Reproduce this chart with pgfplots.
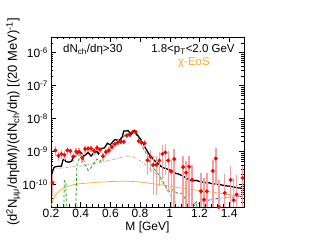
\documentclass[border=0pt]{standalone}
\usepackage{fontspec}
\setmainfont{Liberation Sans}
\usepackage{pgfplots}
\pgfplotsset{compat=1.18}
\definecolor{dred}{RGB}{255,0,0}
\definecolor{errc}{RGB}{245,160,160}
\definecolor{grn}{RGB}{40,160,40}
\definecolor{pnk}{RGB}{200,165,165}
\definecolor{orng}{RGB}{255,170,40}
\definecolor{blu}{RGB}{60,60,255}

\pgfplotstableread{
x y ep em
0.21 1.15e-10 1.0e-10 7e-11
0.23 1.1e-9 3.5e-10 3.5e-10
0.25 7.5e-10 2.3e-10 2.3e-10
0.27 8.5e-10 2.5e-10 2.5e-10
0.29 8.0e-10 2.4e-10 2.4e-10
0.31 1.1e-9 2.8e-10 2.8e-10
0.33 1.05e-9 2.6e-10 2.6e-10
0.35 7.0e-10 2.1e-10 2.1e-10
0.37 1.0e-9 2.5e-10 2.5e-10
0.39 1.0e-9 2.5e-10 2.5e-10
0.41 6.5e-10 2.0e-10 2.0e-10
0.43 1.2e-9 2.8e-10 2.8e-10
0.45 1.25e-9 2.8e-10 2.8e-10
0.47 1.25e-9 2.8e-10 2.8e-10
0.49 1.05e-9 2.5e-10 2.5e-10
0.51 1.3e-9 2.8e-10 2.8e-10
0.53 1.15e-9 2.6e-10 2.6e-10
0.55 7.3e-10 2.0e-10 2.0e-10
0.57 9.8e-10 2.3e-10 2.3e-10
0.59 1.1e-9 2.4e-10 2.4e-10
0.61 1.4e-9 2.8e-10 2.8e-10
0.63 1.7e-9 3.0e-10 3.0e-10
0.65 1.9e-9 3.2e-10 3.2e-10
0.67 2.0e-9 3.3e-10 3.3e-10
0.69 2.0e-9 3.3e-10 3.3e-10
0.71 3.1e-9 4.5e-10 4.5e-10
0.73 3.2e-9 4.5e-10 4.5e-10
0.75 3.9e-9 5e-10 5e-10
0.77 4.0e-9 5e-10 5e-10
0.79 2.1e-9 4e-10 4e-10
0.81 1.9e-9 4e-10 4e-10
0.83 1.8e-9 4e-10 4e-10
0.85 5.5e-10 3.5e-10 3.5e-10
0.87 7.0e-10 4.5e-10 4.5e-10
0.89 4.0e-10 3.5e-10 3.5e-10
0.91 4.0e-10 3.5e-10 3.5e-10
0.93 5.4e-10 4.5e-10 4.5e-10
0.95 8.5e-10 7e-10 7e-10
0.97 9.5e-10 7.5e-10 7.5e-10
0.99 5.4e-10 4.8e-10 4.8e-10
1.01 2.5e-10 3e-10 2.45e-10
1.03 6.0e-10 6e-10 5.9e-10
1.09 3.4e-10 4e-10 3.35e-10
1.11 2.3e-10 3e-10 2.25e-10
1.13 3.5e-10 4e-10 3.45e-10
1.15 1.4e-10 2.5e-10 1.38e-10
1.21 6.3e-11 1.6e-10 6.2e-11
1.23 3.5e-11 1.2e-10 3.45e-11
1.25 6.3e-11 1.6e-10 6.2e-11
1.29 2.6e-10 3e-10 2.55e-10
1.31 6.2e-10 7e-10 5.2e-10
1.33 2.1e-11 1.2e-10 2.05e-11
1.37 5.6e-11 1.5e-10 5.5e-11
1.41 1.4e-10 2.2e-10 1.38e-10
1.43 3.4e-11 1.2e-10 3.3e-11
1.45 5e-11 1.4e-10 4.9e-11
1.49 1.6e-10 2.2e-10 1.58e-10
}\datatab

\pgfplotstableread{
x y
0.205 1.2e-10
0.21 2.5e-10
0.22 3.3e-10
0.23 3.5e-10
0.25 3.6e-10
0.27 3.6e-10
0.28 5.5e-10
0.29 6.0e-10
0.30 5.0e-10
0.32 4.8e-10
0.34 5.2e-10
0.35 7.3e-10
0.37 7.5e-10
0.38 9.8e-10
0.40 9.5e-10
0.42 7.3e-10
0.44 8.5e-10
0.45 9.5e-10
0.47 7.3e-10
0.49 9.5e-10
0.51 1.0e-9
0.52 8.5e-10
0.54 1.25e-9
0.56 1.3e-9
0.58 1.8e-9
0.60 1.6e-9
0.62 2.1e-9
0.63 2.3e-9
0.66 2.2e-9
0.68 2.8e-9
0.69 4.2e-9
0.72 4.3e-9
0.74 3.4e-9
0.76 4.4e-9
0.78 3.3e-9
0.80 2.5e-9
0.82 1.8e-9
0.84 1.2e-9
0.86 8.5e-10
0.88 6.5e-10
0.90 5.2e-10
0.92 4.5e-10
0.94 3.6e-10
0.96 3.2e-10
0.98 3.0e-10
1.00 2.8e-10
1.02 2.5e-10
1.04 2.2e-10
1.06 2.1e-10
1.08 1.9e-10
1.10 1.7e-10
1.12 1.5e-10
1.14 1.35e-10
1.16 1.3e-10
1.18 1.35e-10
1.20 1.25e-10
1.22 1.2e-10
1.24 1.15e-10
1.26 1.15e-10
1.28 1.08e-10
1.30 1.05e-10
1.32 1.02e-10
1.34 1.0e-10
1.36 9.5e-11
1.38 9.2e-11
1.40 9.0e-11
1.42 8.7e-11
1.44 8.3e-11
1.46 8.0e-11
1.48 7.8e-11
1.50 7.5e-11
}\blacktab

\pgfplotstableread{
x y
0.285 1e-11
0.29 1.3e-10
0.30 1.2e-10
0.305 1e-11
0.365 1e-11
0.375 4.5e-10
0.39 6e-10
0.40 9e-10
0.41 8e-10
0.43 4e-10
0.45 2.7e-10
0.47 3.3e-10
0.49 4.5e-10
0.51 6e-10
0.53 5e-10
0.55 7e-10
0.57 8.5e-10
0.59 1.1e-9
0.61 1.5e-9
0.62 2.1e-9
0.64 2.4e-9
0.66 1.9e-9
0.68 2.6e-9
0.70 3.2e-9
0.72 3.5e-9
0.74 3.9e-9
0.76 4.0e-9
0.78 2.9e-9
0.80 1.9e-9
0.82 1.3e-9
0.84 9e-10
0.86 5.5e-10
0.88 3.8e-10
0.90 2.8e-10
0.93 1.9e-10
0.96 1.1e-10
0.98 8e-11
1.00 6e-11
1.02 7e-11
1.05 5.5e-11
1.08 5.5e-11
1.10 4e-11
1.12 2.5e-11
1.13 1e-11
1.15 1e-11
1.16 2.5e-11
1.18 3e-11
1.19 1e-11
}\greentab

\pgfplotstableread{
x y
0.21 2.8e-10
0.22 3.0e-10
0.30 3.3e-10
0.40 3.7e-10
0.50 4.4e-10
0.60 5.5e-10
0.65 6.3e-10
0.70 7.2e-10
0.73 7.4e-10
0.76 6.8e-10
0.80 5.3e-10
0.85 3.6e-10
0.90 2.3e-10
0.95 1.2e-10
1.00 5e-11
1.05 2.5e-11
1.08 1.5e-11
}\pinktab

\pgfplotstableread{
x y
0.20 2.3e-11
0.21 3e-11
0.22 4e-11
0.24 5.5e-11
0.27 7.2e-11
0.30 8.6e-11
0.35 1.0e-10
0.40 1.07e-10
0.50 1.17e-10
0.60 1.24e-10
0.70 1.27e-10
0.75 1.25e-10
0.80 1.2e-10
0.85 1.12e-10
0.90 1.05e-10
0.95 9.8e-11
1.00 9e-11
1.10 7.6e-11
1.20 6.6e-11
1.30 5.8e-11
1.40 5e-11
1.50 4.2e-11
}\orangetab

\pgfplotstableread{
x y
1.11 1.5e-11
1.15 2.2e-11
1.20 2.8e-11
1.25 3.3e-11
1.30 3.7e-11
1.35 3.9e-11
1.40 4.1e-11
1.45 4.3e-11
1.50 4.5e-11
}\bluetab

\begin{document}
\begin{tikzpicture}
\useasboundingbox (-51pt,-38pt) rectangle (266pt,207pt);
\begin{axis}[
  at={(0,0)}, anchor=south west,
  scale only axis, width=193pt, height=170pt,
  xmin=0.2, xmax=1.5, ymode=log, ymin=2.1e-11, ymax=3e-6,
  xtick={0.2,0.4,0.6,0.8,1.0,1.2,1.4},
  xticklabels={0.2,0.4,0.6,0.8,1,1.2,1.4},
  minor x tick num=4,
  ytick={1e-10,1e-9,1e-8,1e-7,1e-6},
  yticklabels={10\textsuperscript{-10},10\textsuperscript{-9},10\textsuperscript{-8},10\textsuperscript{-7},10\textsuperscript{-6}},
  minor ytick={3e-11,4e-11,5e-11,6e-11,7e-11,8e-11,9e-11,
    2e-10,3e-10,4e-10,5e-10,6e-10,7e-10,8e-10,9e-10,
    2e-9,3e-9,4e-9,5e-9,6e-9,7e-9,8e-9,9e-9,
    2e-8,3e-8,4e-8,5e-8,6e-8,7e-8,8e-8,9e-8,
    2e-7,3e-7,4e-7,5e-7,6e-7,7e-7,8e-7,9e-7,
    2e-6,3e-6},
  tick align=inside, xtick pos=both, ytick pos=both,
  major tick length=5pt, minor tick length=2.5pt,
  tick style={black, line width=0.5pt},
  axis line style={line width=0.7pt},
  ticklabel style={font=\fontsize{12}{14}\selectfont},
  xticklabel style={inner sep=1pt, yshift=-1pt},
  yticklabel style={inner sep=1pt, xshift=-2pt},
  xlabel={M [GeV]},
  ylabel={(d\textsuperscript{2}N\textsubscript{μμ}/dηdM)/(dN\textsubscript{ch}/dη) [(20 MeV)\textsuperscript{-1}]},
  xlabel style={font=\fontsize{12}{14}\selectfont, at={(axis description cs:0.5,-0.12)}, anchor=center},
  ylabel style={font=\fontsize{13}{15}\selectfont, at={(axis description cs:-0.195,0.5)}, anchor=center, rotate=0},
  clip=true,
]
\addplot[orng, line width=0.7pt] table[x=x,y=y] {\orangetab};
\addplot[blu, line width=0.8pt, dash pattern=on 3pt off 1.2pt on 0.8pt off 1.2pt on 0.8pt off 1.2pt] table[x=x,y=y] {\bluetab};
\addplot[pnk, line width=0.8pt, dash pattern=on 3pt off 1.5pt on 0.8pt off 1.5pt] table[x=x,y=y] {\pinktab};
\addplot[grn, line width=0.8pt, dash pattern=on 3pt off 2pt] table[x=x,y=y] {\greentab};
\addplot[black, line width=1.3pt] table[x=x,y=y] {\blacktab};
\addplot[only marks, mark=*, mark size=1.8pt, mark options={fill=dred, draw=dred},
  error bars/.cd, y dir=both, y explicit,
  error bar style={errc, line width=1.5pt}, error mark=none]
  table[x=x, y=y, y error plus=ep, y error minus=em] {\datatab};
\node[anchor=west, font=\fontsize{11.5}{13}\selectfont] at (rel axis cs:0.045,0.924) {dN\textsubscript{ch}/dη>30};
\node[anchor=east, font=\fontsize{11.5}{13}\selectfont] at (rel axis cs:0.97,0.924) {1.8<p\textsubscript{T}<2.0 GeV};
\node[anchor=center, font=\fontsize{11.5}{13}\selectfont, text=orng] at (rel axis cs:0.741,0.847) {χ-EoS};
\end{axis}
\end{tikzpicture}
\end{document}
